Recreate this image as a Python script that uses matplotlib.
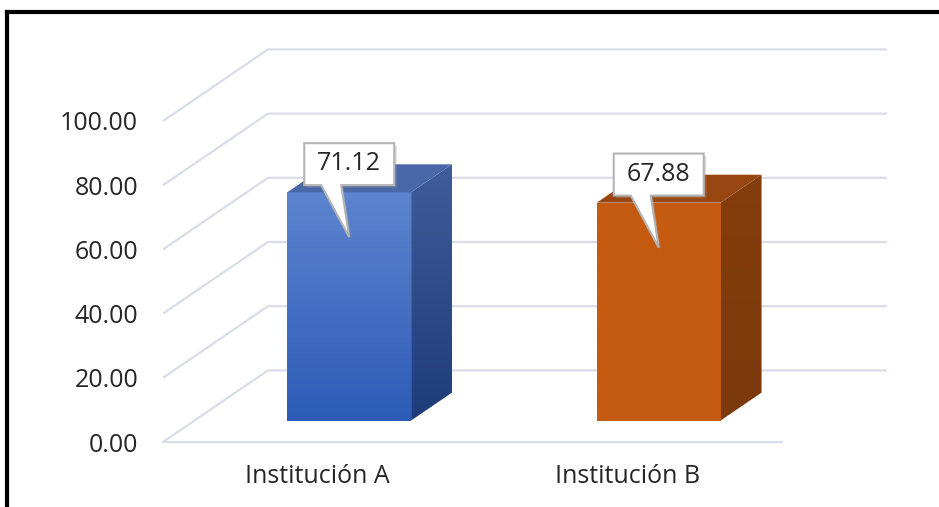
import numpy as np
import matplotlib.pyplot as plt
from matplotlib.patches import Polygon
from matplotlib.lines import Line2D
from matplotlib.transforms import ScaledTranslation
from matplotlib.colors import LinearSegmentedColormap

categories = ['Institución A', 'Institución B']
values = [71.12, 67.88]
y_ticks = [0, 20, 40, 60, 80, 100]

plt.rcParams['font.family'] = ['Open Sans', 'DejaVu Sans']

# depth of the 3D box, in data units (x: categories, y: value)
DX, DY = 0.339, 22.3
# bars sit between these depth fractions
D0, D1 = 0.30, 0.69
HALF_W = 0.2
grid_col = '#D9DDE8'
text_col = '#262626'

fig = plt.figure(figsize=(9.39, 5.07), dpi=100)
ax = fig.add_axes([163 / 939, 65 / 507, 619 / 939, 321 / 507])
for s in ax.spines.values():
    s.set_visible(False)


def gradient_fill(xy, top_col, bot_col, z):
    patch = Polygon(xy, closed=True, facecolor='none', edgecolor='none')
    ax.add_patch(patch)
    xs = [p[0] for p in xy]
    ys = [p[1] for p in xy]
    cmap = LinearSegmentedColormap.from_list('grad', [bot_col, top_col])
    im = ax.imshow(np.linspace(0, 1, 256).reshape(-1, 1), cmap=cmap,
                   extent=[min(xs), max(xs), min(ys), max(ys)],
                   origin='lower', aspect='auto', zorder=z)
    im.set_clip_path(patch)


# back wall, side wall and floor gridlines
for v in y_ticks:
    ax.plot([-0.5, -0.5 + DX, 1.5 + DX], [v, v + DY, v + DY],
            color=grid_col, lw=1.6, clip_on=False, zorder=1,
            solid_capstyle='butt')
ax.plot([-0.5, 1.5], [0, 0], color=grid_col, lw=1.6, clip_on=False, zorder=1)

styles = [
    # front top, front bottom, side top, side bottom, top face
    ('#5C84CF', '#2D5CB6', '#405C9A', '#1E3C78', '#4A67A8'),
    ('#C65A12', '#C55A11', '#843D0C', '#7C390B', '#994710'),
]

ddx, ddy = (D1 - D0) * DX, (D1 - D0) * DY
for i, (v, st) in enumerate(zip(values, styles)):
    x0 = i - HALF_W + D0 * DX
    x1 = i + HALF_W + D0 * DX
    y0 = D0 * DY
    y1 = v + D0 * DY
    front = [(x0, y0), (x1, y0), (x1, y1), (x0, y1)]
    side = [(x1, y0), (x1 + ddx, y0 + ddy), (x1 + ddx, y1 + ddy), (x1, y1)]
    top = [(x0, y1), (x1, y1), (x1 + ddx, y1 + ddy), (x0 + ddx, y1 + ddy)]
    gradient_fill(front, st[0], st[1], 3)
    gradient_fill(side, st[2], st[3], 3)
    ax.add_patch(Polygon(top, closed=True, facecolor=st[4], edgecolor='none',
                         zorder=3))

    # callout label pointing into the bar
    tip_x = i + D0 * DX
    tip_y = y1 - 14
    trans = fig.dpi_scale_trans + ScaledTranslation(tip_x, tip_y, ax.transData)
    shape = np.array([(-45, 52), (-28, 52), (0, 0), (-8, 52), (45, 52),
                      (45, 94), (-45, 94)]) / 100.0
    ax.add_patch(Polygon(shape + [0.025, -0.025], closed=True,
                         facecolor='#9A9A9A', edgecolor='none', alpha=0.35,
                         transform=trans, zorder=4, clip_on=False))
    ax.add_patch(Polygon(shape, closed=True, facecolor='white',
                         edgecolor='#B4B4B4', lw=1.5, transform=trans,
                         zorder=5, clip_on=False))
    ax.text(0, 0.735, f'{v:.2f}', transform=trans, ha='center', va='center',
            fontsize=18, color=text_col, zorder=6)

ax.set_xlim(-0.5, 1.5)
ax.set_ylim(0, 100)
ax.set_xticks(range(len(categories)), categories)
ax.set_yticks(y_ticks, [f'{v:.2f}' for v in y_ticks])
ax.tick_params(axis='both', length=0, labelsize=18, colors=text_col)
ax.tick_params(axis='y', pad=18)
ax.tick_params(axis='x', pad=16)

# outer frame (left and top edges)
fig.add_artist(Line2D([7 / 939, 7 / 939], [0, 1 - 12 / 507],
                      transform=fig.transFigure, color='black', lw=3))
fig.add_artist(Line2D([7 / 939, 1], [1 - 12 / 507, 1 - 12 / 507],
                      transform=fig.transFigure, color='black', lw=3))

fig.savefig('out.png', dpi=100)
